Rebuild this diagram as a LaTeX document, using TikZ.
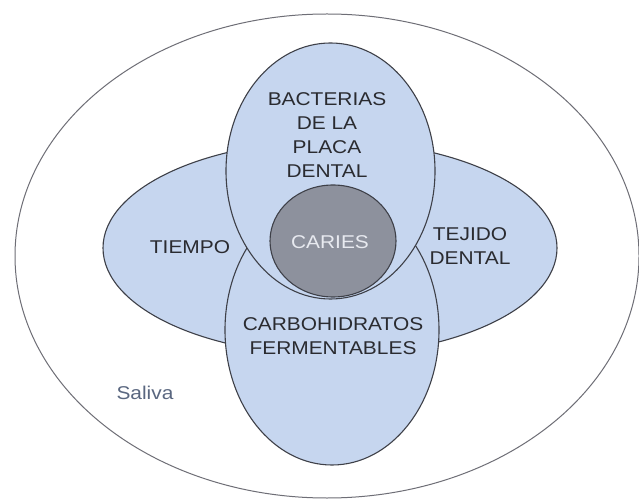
\documentclass[tikz,border=0pt]{standalone}
\usepackage{fontspec}
\setmainfont[FakeStretch=1.13]{Liberation Sans}
\usetikzlibrary{shapes.geometric}
\definecolor{blobfill}{HTML}{C6D6EF}
\definecolor{blobline}{HTML}{3E4048}
\definecolor{cariesfill}{HTML}{8D919D}
\definecolor{cariestext}{HTML}{E8EAF0}
\definecolor{outerline}{HTML}{6E6E76}
\definecolor{labeltext}{HTML}{2A2B30}
\definecolor{salivatext}{HTML}{5A6780}
\tikzset{
  blob/.style={ellipse, draw=blobline, line width=1.1pt, fill=blobfill, inner sep=0pt},
  lbl/.style={align=center, text=labeltext, inner sep=0pt,
    font=\fontsize{18.5}{23.7}\selectfont},
}
\begin{document}
\begin{tikzpicture}[x=1pt,y=-1pt]
\useasboundingbox (0,0) rectangle (639,502);
\fill[white] (0,0) rectangle (639,502);
% outer ellipse (saliva)
\node[ellipse, draw=outerline, line width=1pt, inner sep=0pt,
      minimum width=624pt, minimum height=484pt] (outer) at (327,256) {};
% horizontal ellipse (tiempo / tejido)
\node[blob, minimum width=454pt, minimum height=214pt] (horiz) at (330,248) {};
% bottom ellipse (carbohidratos)
\node[blob, minimum width=214pt, minimum height=270pt] (bottom) at (332,330) {};
% top ellipse (bacterias)
\node[blob, minimum width=209pt, minimum height=256pt] (top) at (330.5,171) {};
% caries
\node[ellipse, draw=blobline, line width=1.1pt, fill=cariesfill, inner sep=0pt,
      minimum width=126pt, minimum height=112pt] (caries) at (333,241) {};
% labels
\node[lbl] (tbact) at (327,135) {BACTERIAS\\DE LA\\PLACA\\DENTAL};
\node[lbl] (ttiempo) at (190,247) {TIEMPO};
\node[lbl] (ttejido) at (470,246) {TEJIDO\\DENTAL};
\node[lbl] (tcarbo) at (333,336) {CARBOHIDRATOS\\FERMENTABLES};
\node[lbl, text=cariestext] (tcaries) at (330,242) {CARIES};
\node[lbl, text=salivatext] (tsaliva) at (145,393) {Saliva};
\end{tikzpicture}
\end{document}
